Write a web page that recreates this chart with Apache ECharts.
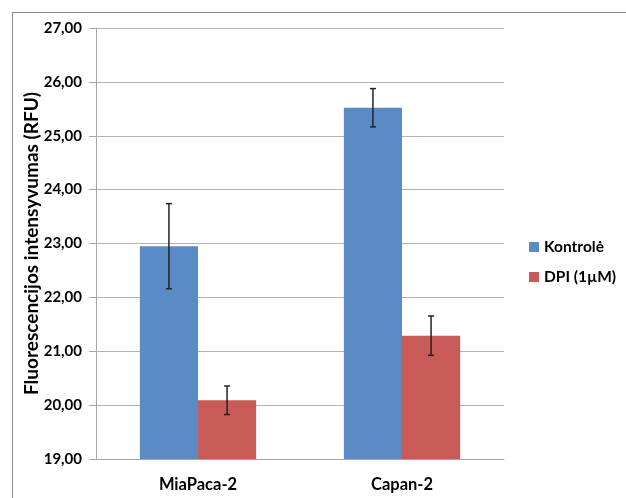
<!DOCTYPE html>
<html>
<head>
<meta charset="utf-8">
<script src="https://cdn.jsdelivr.net/npm/echarts@6/dist/echarts.min.js"></script>
<style>html,body{margin:0;padding:0;background:#fff;}#c{width:626px;height:498px;}</style>
</head>
<body>
<div id="c"></div>
<script>
const categories = ['MiaPaca-2', 'Capan-2'];
const seriesNames = ['Kontrolė', 'DPI (1µM)'];
const kontrole = [22.95, 25.52];
const kontroleErr = [0.79, 0.355];
const dpi = [20.09, 21.29];
const dpiErr = [0.265, 0.365];
const yTicks = [19, 20, 21, 22, 23, 24, 25, 26, 27];

const colors = ['#5b8bc5', '#c85a57'];
const FONT = 'Lato';
const gapPct = 0.43;

function errSeries(vals, errs, idx) {
  const data = vals.map((v, i) => [i, v, errs[i]]);
  return {
    type: 'custom',
    name: seriesNames[idx] + ' err',
    z: 10,
    silent: true,
    data: data,
    renderItem: function (params, api) {
      const ci = api.value(0);
      const v = api.value(1);
      const e = api.value(2);
      const catW = api.size([1, 0])[0];
      const bw = catW * (1 - gapPct) / 2;
      const off = idx === 0 ? -bw / 2 : bw / 2;
      const top = api.coord([ci, v + e]);
      const bot = api.coord([ci, v - e]);
      const x = top[0] + off;
      const cap = 3;
      const style = { stroke: '#222', lineWidth: 1.5 };
      return {
        type: 'group',
        children: [
          { type: 'line', shape: { x1: x, y1: top[1], x2: x, y2: bot[1] }, style: style },
          { type: 'line', shape: { x1: x - cap, y1: top[1], x2: x + cap, y2: top[1] }, style: style },
          { type: 'line', shape: { x1: x - cap, y1: bot[1], x2: x + cap, y2: bot[1] }, style: style }
        ]
      };
    }
  };
}

const chart = echarts.init(document.getElementById('c'), null, { renderer: 'canvas' });
chart.setOption({
  animation: false,
  backgroundColor: '#fff',
  graphic: [{
    type: 'rect', left: 10, top: 10, z: -10,
    shape: { width: 700, height: 600 },
    style: { fill: 'none', stroke: '#8a8a8a', lineWidth: 1 }
  }],
  grid: { left: 96, right: 122, top: 28, bottom: 39, containLabel: false },
  legend: {
    orient: 'vertical', left: 524, top: 234,
    itemWidth: 10, itemHeight: 10, itemGap: 14,
    icon: 'rect',
    textStyle: { fontFamily: FONT, fontWeight: 'bold', fontSize: 15.5, color: '#000' },
    data: seriesNames
  },
  xAxis: {
    type: 'category',
    data: categories,
    axisLine: { lineStyle: { color: '#a6a6a6', width: 1 } },
    axisTick: { show: false },
    axisLabel: { fontFamily: FONT, fontWeight: 'bold', fontSize: 16.5, color: '#000', margin: 17 }
  },
  yAxis: {
    type: 'value',
    min: yTicks[0], max: yTicks[yTicks.length - 1], interval: 1,
    name: 'Fluorescencijos intensyvumas (RFU)',
    nameLocation: 'middle', nameGap: 55, nameRotate: 90, nameMoveOverlap: false,
    nameTextStyle: { fontFamily: FONT, fontWeight: 'bold', fontSize: 19, color: '#000' },
    axisLine: { show: true, lineStyle: { color: '#a6a6a6', width: 1 } },
    axisTick: { show: true, length: 7, lineStyle: { color: '#a6a6a6' } },
    splitLine: { lineStyle: { color: '#b3b3b3', width: 1 } },
    axisLabel: {
      fontFamily: FONT, fontWeight: 'bold', fontSize: 15, color: '#000', margin: 14,
      formatter: v => v.toFixed(2).replace('.', ',')
    }
  },
  series: [
    { type: 'bar', name: seriesNames[0], data: kontrole, barGap: '0%', barCategoryGap: (gapPct * 100) + '%', itemStyle: { color: colors[0] } },
    { type: 'bar', name: seriesNames[1], data: dpi, barGap: '0%', barCategoryGap: (gapPct * 100) + '%', itemStyle: { color: colors[1] } },
    errSeries(kontrole, kontroleErr, 0),
    errSeries(dpi, dpiErr, 1)
  ]
});
</script>
</body>
</html>
